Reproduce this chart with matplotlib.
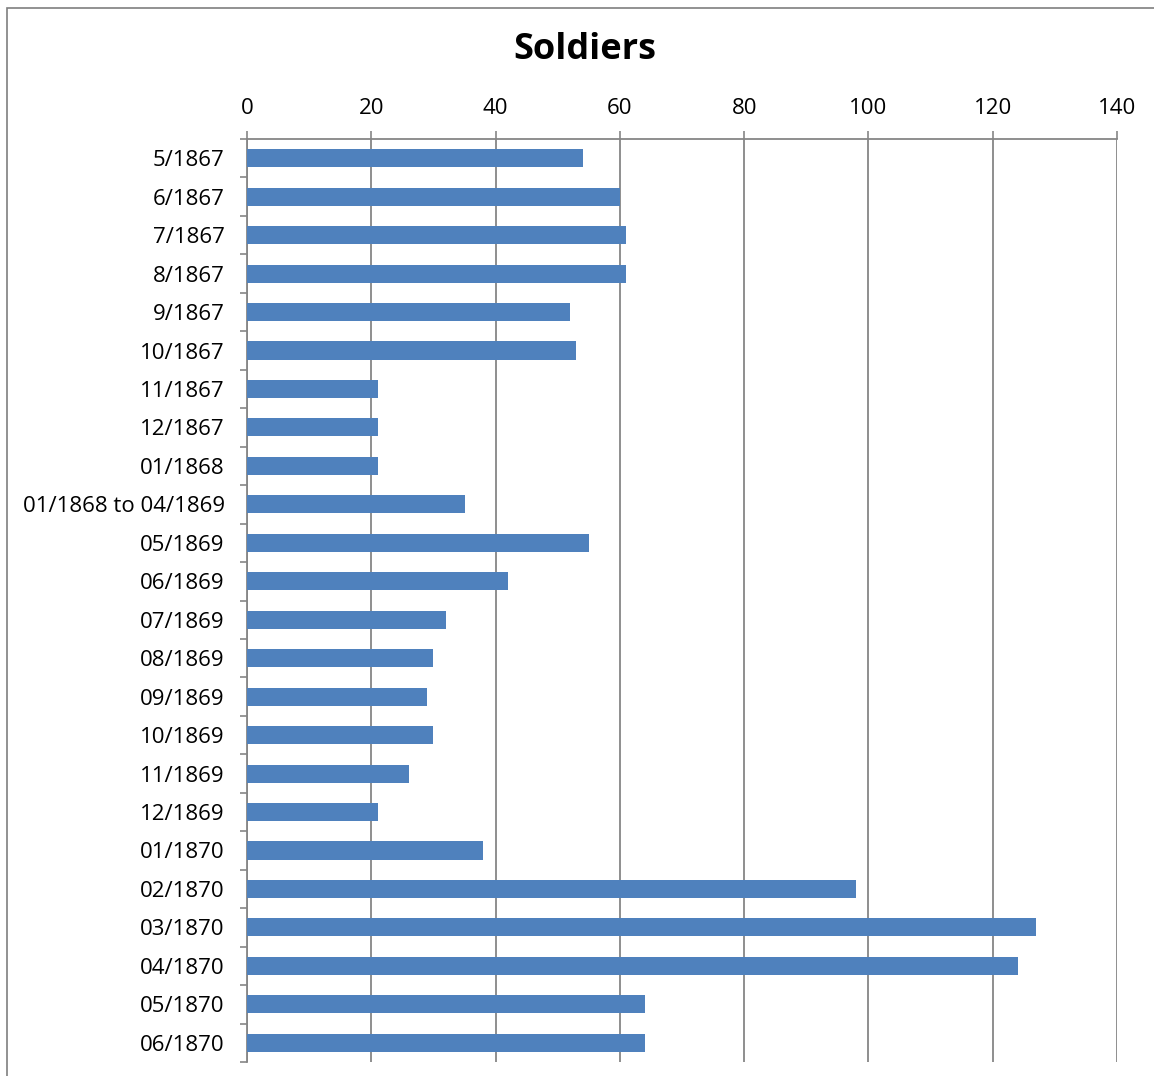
import matplotlib.pyplot as plt
from matplotlib.patches import Rectangle
from matplotlib.ticker import FixedLocator

plt.rcParams['font.family'] = ['Open Sans', 'DejaVu Sans']

periods = [
    '5/1867', '6/1867', '7/1867', '8/1867', '9/1867', '10/1867',
    '11/1867', '12/1867', '01/1868', '01/1868 to 04/1869', '05/1869',
    '06/1869', '07/1869', '08/1869', '09/1869', '10/1869', '11/1869',
    '12/1869', '01/1870', '02/1870', '03/1870', '04/1870', '05/1870',
    '06/1870',
]
soldiers = [
    54, 60, 61, 61, 52, 53, 21, 21, 21, 35, 55, 42, 32, 30, 29, 30, 26,
    21, 38, 98, 127, 124, 64, 64,
]
x_ticks = [0, 20, 40, 60, 80, 100, 120, 140]

W, H = 1154, 1076
grey = '#868686'

fig = plt.figure(figsize=(W / 100, H / 100), dpi=100)

# outer chart border (runs off the right and bottom edges)
fig.patches.append(Rectangle((7 / W, -0.05), 1.2, 1 - 8 / H + 0.05,
                             transform=fig.transFigure, fill=False,
                             edgecolor='#7f7f7f', linewidth=1.2))

ax = fig.add_axes([247 / W, 1 - 1062 / H, (1117 - 247) / W, (1062 - 139) / H])

n = len(periods)
pos = list(range(n))
ax.barh(pos, soldiers, height=0.47, color='#4F81BD', zorder=3)

ax.set_xlim(0, 140)
ax.set_ylim(n - 0.5, -0.5)
ax.set_xticks(x_ticks)
ax.xaxis.tick_top()
ax.grid(axis='x', color=grey, linewidth=1.3, zorder=0)

ax.set_yticks(pos)
ax.set_yticklabels(periods)
ax.yaxis.set_minor_locator(FixedLocator([i - 0.5 for i in range(n + 1)]))
ax.tick_params(axis='y', which='major', length=0, pad=16, labelsize=16)
ax.tick_params(axis='y', which='minor', length=5, width=1.2, color=grey)
ax.tick_params(axis='x', which='major', length=5.5, width=1.2, color=grey,
               pad=9, labelsize=16)

for side in ['right', 'bottom']:
    ax.spines[side].set_visible(False)
for side in ['left', 'top']:
    ax.spines[side].set_color(grey)
    ax.spines[side].set_linewidth(1.3)

fig.text(585 / W, 1 - 50 / H, 'Soldiers', ha='center', va='center',
         fontsize=26, fontweight='bold')

fig.savefig('out.png', dpi=100)
